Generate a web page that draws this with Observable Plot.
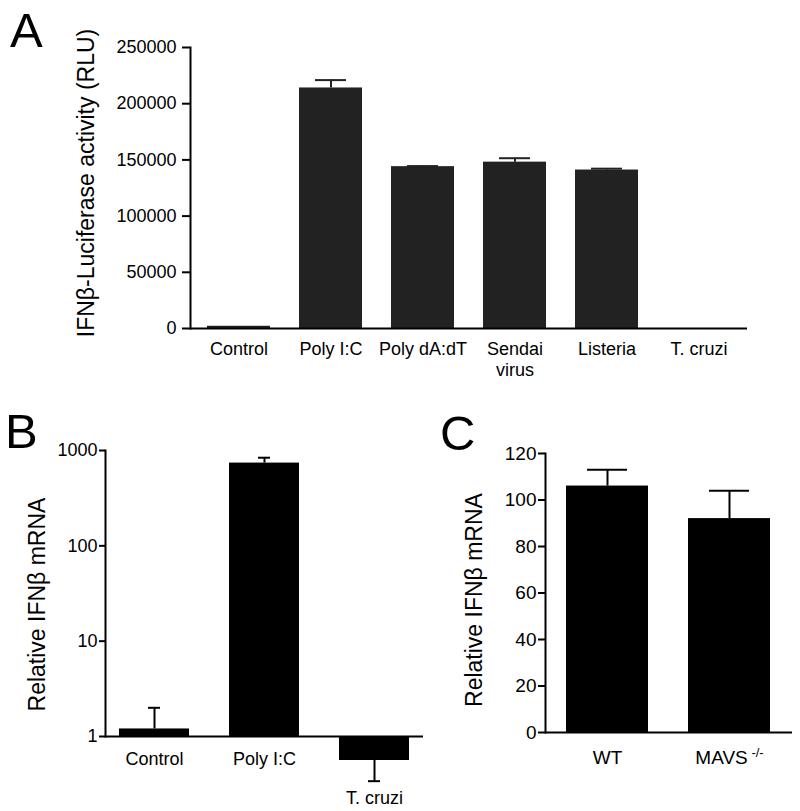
<!DOCTYPE html>
<html>
<head>
<meta charset="utf-8">
<script src="https://cdn.jsdelivr.net/npm/d3@7"></script>
<script src="https://cdn.jsdelivr.net/npm/@observablehq/plot@0.6"></script>
<style>
  body { margin: 0; background: #fff; }
  #fig { position: relative; width: 800px; height: 811px; font-family: "Liberation Sans", Arial, sans-serif; color: #000; }
  .panel { position: absolute; }
  .letter { position: absolute; font-size: 49px; line-height: 1; color: #000; font-family: "Liberation Sans", Arial, sans-serif; }
</style>
</head>
<body>
<div id="fig"></div>
<script>
// ---------- Panel A ----------
const catsA = ["Control", "Poly I:C", "Poly dA:dT", "Sendai virus", "Listeria", "T. cruzi"];
const valsA = [2000, 214000, 144000, 148000, 141000, 0];
const errA  = [0, 7000, 500, 3500, 1200, 0];
const ticksA = [0, 50000, 100000, 150000, 200000, 250000];
const titleA = "IFNβ-Luciferase activity (RLU)";

// ---------- Panel B ----------
const catsB = ["Control", "Poly I:C", "T. cruzi"];
const valsB = [1.2, 738, 0.56];
const tipsB = [2.0, 840, 0.34];   // end of the error bar
const ticksB = [1, 10, 100, 1000];
const titleB = "Relative IFNβ mRNA";

// ---------- Panel C ----------
const catsC = ["WT", "MAVS -/-"];
const valsC = [106, 92];
const errC  = [7, 12];
const ticksC = [0, 20, 40, 60, 80, 100, 120];
const titleC = "Relative IFNβ mRNA";

const font = "Liberation Sans, Arial, sans-serif";
const fig = document.getElementById("fig");

function place(el, left, top) {
  el.classList.add("panel");
  el.style.left = left + "px";
  el.style.top = top + "px";
  fig.appendChild(el);
}
function letter(t, left, top) {
  const d = document.createElement("div");
  d.className = "letter";
  d.textContent = t;
  d.style.left = left + "px";
  d.style.top = top + "px";
  fig.appendChild(d);
}
function yTitle(text, dx, dy) {
  return Plot.text([text], {text: d => d, frameAnchor: "left", rotate: -90, lineAnchor: "top",
                            textAnchor: "middle", dx, dy, fontSize: 23, fill: "#000"});
}

const dataA = catsA.map((c, i) => ({c, v: valsA[i], e: errA[i]}));
const errDataA = dataA.filter(d => d.e > 0);

const plotA = Plot.plot({
  width: 800, height: 385,
  marginLeft: 190, marginRight: 53, marginTop: 47, marginBottom: 57,
  style: {background: "none", fontFamily: font, color: "#000", overflow: "visible"},
  x: {domain: catsA, paddingInner: 0.32, paddingOuter: 0.16, label: null},
  y: {domain: [0, 250000]},
  marks: [
    Plot.barY(dataA, {x: "c", y: "v", fill: "#222"}),
    Plot.ruleX(errDataA, {x: "c", y1: "v", y2: d => d.v + d.e, stroke: "#222", strokeWidth: 2}),
    Plot.tickY(errDataA, {x: "c", y: d => d.v + d.e, stroke: "#222", strokeWidth: 2, insetLeft: 16, insetRight: 16}),
    Plot.ruleY([0], {stroke: "#000", strokeWidth: 2}),
    Plot.frame({anchor: "left", stroke: "#000", strokeWidth: 2}),
    Plot.axisY({ticks: ticksA, tickFormat: d => String(d), tickSize: 8, tickPadding: 6, fontSize: 18, strokeWidth: 2, label: null}),
    yTitle(titleA, -113, -5),
    Plot.axisX({tickSize: 0, tickPadding: 11, fontSize: 18, label: null, lineHeight: 1.2,
                tickFormat: d => d === "Sendai virus" ? "Sendai\nvirus" : d})
  ]
});
place(plotA, 0, 0);

const dataB = catsB.map((c, i) => ({c, v: valsB[i], t: tipsB[i]}));
const plotB = Plot.plot({
  width: 425, height: 411,
  marginLeft: 105, marginRight: 2, marginTop: 50, marginBottom: 75,
  style: {background: "none", fontFamily: font, color: "#000", overflow: "visible"},
  x: {domain: catsB, paddingInner: 0.36, paddingOuter: 0.125, axis: null},
  y: {type: "log", domain: [1, 1000]},
  marks: [
    Plot.barY(dataB, {x: "c", y1: 1, y2: "v", fill: "#000"}),
    Plot.ruleX(dataB, {x: "c", y1: "v", y2: "t", stroke: "#000", strokeWidth: 2}),
    Plot.tickY(dataB, {x: "c", y: "t", stroke: "#000", strokeWidth: 2, insetLeft: 29, insetRight: 29}),
    Plot.ruleY([1], {stroke: "#000", strokeWidth: 2}),
    Plot.frame({anchor: "left", stroke: "#000", strokeWidth: 2}),
    Plot.axisY({ticks: ticksB, tickFormat: d => String(d), tickSize: 6, tickPadding: 2, fontSize: 18, strokeWidth: 2, label: null}),
    yTitle(titleB, -77, 11),
    Plot.text(dataB.filter(d => d.t >= 1), {x: "c", y: 1, text: "c", dy: 16, lineAnchor: "top", fontSize: 18, fill: "#000"}),
    Plot.text(dataB.filter(d => d.t < 1), {x: "c", y: "t", text: "c", dy: 10, lineAnchor: "top", fontSize: 18, fill: "#000"})
  ]
});
place(plotB, 0, 400);

const dataC = catsC.map((c, i) => ({c, v: valsC[i], e: errC[i]}));
const plotC = Plot.plot({
  width: 390, height: 411,
  marginLeft: 135, marginRight: 8, marginTop: 53, marginBottom: 79,
  style: {background: "none", fontFamily: font, color: "#000", overflow: "visible"},
  x: {domain: catsC, paddingInner: 0.325, paddingOuter: 0.167, label: null},
  y: {domain: [0, 120]},
  marks: [
    Plot.barY(dataC, {x: "c", y: "v", fill: "#000"}),
    Plot.ruleX(dataC, {x: "c", y1: "v", y2: d => d.v + d.e, stroke: "#000", strokeWidth: 2}),
    Plot.tickY(dataC, {x: "c", y: d => d.v + d.e, stroke: "#000", strokeWidth: 2, insetLeft: 21, insetRight: 21}),
    Plot.ruleY([0], {stroke: "#000", strokeWidth: 2}),
    Plot.frame({anchor: "left", stroke: "#000", strokeWidth: 2}),
    Plot.axisY({ticks: ticksC, tickFormat: d => String(d), tickSize: 7, tickPadding: 2, fontSize: 19, strokeWidth: 2, label: null}),
    yTitle(titleC, -80, 7),
    Plot.axisX({tickSize: 0, tickPadding: 18, fontSize: 19, label: null})
  ]
});
place(plotC, 410, 400);

// superscript for MAVS -/-
plotC.querySelectorAll("text").forEach(t => {
  if (t.textContent === "MAVS -/-") {
    t.textContent = "MAVS";
    const s = document.createElementNS("http://www.w3.org/2000/svg", "tspan");
    s.setAttribute("dy", "-0.55em");
    s.setAttribute("font-size", "13px");
    s.textContent = " -/-";
    t.appendChild(s);
  }
});

letter("A", 10, 6);
letter("B", 5, 407);
letter("C", 440, 409);
</script>
</body>
</html>
